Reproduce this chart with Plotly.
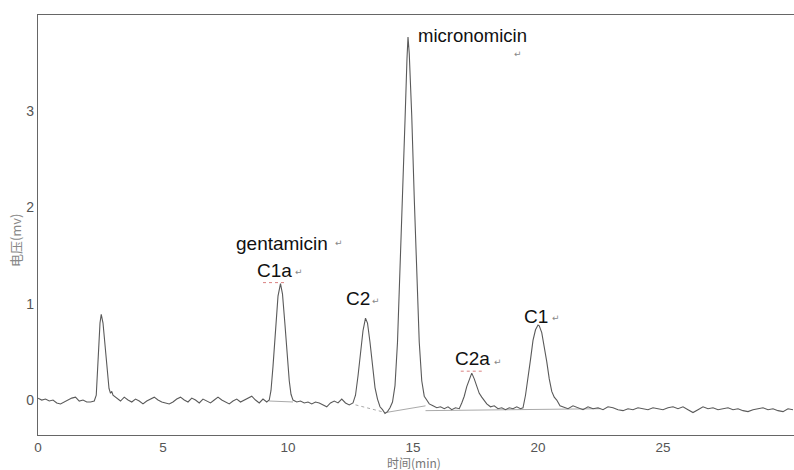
import plotly.graph_objects as go

# ---- data ----
time_min = [
    0.0, 0.15, 0.3, 0.45, 0.6, 0.75, 0.9, 1.05, 1.2, 1.35, 1.5, 1.65, 1.8, 1.95, 2.1, 2.25, 2.33,
    2.38, 2.43, 2.48, 2.53, 2.6, 2.68, 2.76, 2.84, 2.9, 2.95, 3.0,
    3.15, 3.3, 3.45, 3.6, 3.75, 3.9, 4.05, 4.2, 4.35, 4.5, 4.65, 4.8, 4.95, 5.1, 5.25, 5.4,
    5.55, 5.7, 5.85, 6.0, 6.15, 6.3, 6.45, 6.6, 6.75, 6.9, 7.05, 7.2, 7.35, 7.5, 7.65, 7.8,
    7.95, 8.1, 8.25, 8.4, 8.55, 8.7, 8.85, 9.0, 9.15, 9.25,
    9.32, 9.4, 9.5, 9.6, 9.7, 9.78, 9.88, 9.98, 10.05, 10.12, 10.2,
    10.35, 10.5, 10.65, 10.8, 10.95, 11.1, 11.25, 11.4, 11.55, 11.7, 11.85, 12.0, 12.15, 12.3, 12.45, 12.6,
    12.7, 12.8, 12.9, 13.0, 13.1, 13.18, 13.28, 13.38, 13.48, 13.58, 13.68, 13.78, 13.88, 13.98, 14.08, 14.18,
    14.28, 14.38, 14.48, 14.58, 14.68, 14.76, 14.8, 14.85, 14.95, 15.05, 15.15, 15.25, 15.35, 15.45, 15.55, 15.65,
    15.8, 15.95, 16.1, 16.25, 16.4, 16.55, 16.7, 16.85,
    16.95, 17.05, 17.15, 17.25, 17.35, 17.45, 17.55, 17.65, 17.75, 17.85, 17.95, 18.1,
    18.25, 18.4, 18.55, 18.7, 18.85, 19.0, 19.15, 19.3, 19.4,
    19.5, 19.6, 19.7, 19.8, 19.9, 20.0, 20.05, 20.15, 20.25, 20.35, 20.45, 20.55, 20.65, 20.75, 20.88,
    21.0, 21.2, 21.4, 21.6, 21.8, 22.0, 22.2, 22.4, 22.6, 22.8, 23.0, 23.2, 23.4, 23.6, 23.8,
    24.0, 24.2, 24.4, 24.6, 24.8, 25.0, 25.2, 25.4, 25.6, 25.8, 26.0, 26.2, 26.4, 26.6, 26.8,
    27.0, 27.2, 27.4, 27.6, 27.8, 28.0, 28.2, 28.4, 28.6, 28.8, 29.0, 29.2, 29.4, 29.6, 29.8,
    30.0, 30.2,
]
signal_mv = [
    0.02, 0.0, 0.01, -0.01, 0.0, -0.03, -0.04, -0.02, 0.0, 0.02, 0.03, -0.01, 0.0, -0.02, -0.02, -0.01, 0.05,
    0.25, 0.55, 0.8, 0.89, 0.8, 0.55, 0.3, 0.12, 0.07, 0.09, 0.05,
    0.02, -0.01, 0.03, 0.0, -0.02, 0.01, -0.01, -0.04, -0.01, 0.01, 0.03, 0.0, -0.02, -0.03, -0.04, -0.02,
    0.01, 0.03, 0.0, -0.02, 0.02, 0.0, -0.03, 0.01, -0.01, -0.03, 0.0, 0.03, 0.0, -0.02, -0.04, -0.01,
    0.01, -0.02, 0.0, 0.02, 0.04, 0.0, -0.03, 0.01, -0.02, 0.0,
    0.1, 0.35, 0.75, 1.08, 1.21, 1.1, 0.78, 0.42, 0.2, 0.06, 0.0,
    -0.02, -0.01, -0.03, -0.02, -0.04, -0.02, -0.03, -0.05, -0.07, -0.03, -0.01, -0.03, 0.01, -0.03, -0.05, -0.03,
    0.05, 0.25, 0.5, 0.72, 0.85, 0.8, 0.6, 0.35, 0.13, 0.01, -0.07, -0.1, -0.14, -0.12, -0.08, -0.02,
    0.15, 0.6, 1.3, 2.1, 2.9, 3.55, 3.77, 3.6, 2.95, 2.1, 1.3, 0.6, 0.2, 0.04, 0.0, -0.04,
    -0.06, -0.08, -0.07, -0.09, -0.07, -0.1, -0.08, -0.09,
    -0.03, 0.04, 0.14, 0.22, 0.28, 0.22, 0.14, 0.07, 0.03, -0.01, -0.04, -0.07,
    -0.06, -0.09, -0.08, -0.1, -0.08, -0.09, -0.07, -0.09, -0.08,
    0.05, 0.22, 0.42, 0.62, 0.73, 0.78, 0.77, 0.7, 0.56, 0.4, 0.22, 0.09, 0.03, 0.0, -0.06,
    -0.07, -0.09, -0.06, -0.08, -0.1, -0.07, -0.09, -0.08, -0.1, -0.07, -0.08, -0.1, -0.11, -0.09, -0.1,
    -0.08, -0.09, -0.1, -0.08, -0.09, -0.1, -0.08, -0.07, -0.09, -0.07, -0.1, -0.13, -0.1, -0.07, -0.09,
    -0.08, -0.1, -0.09, -0.08, -0.1, -0.09, -0.11, -0.12, -0.1, -0.09, -0.08, -0.1, -0.09, -0.11, -0.12,
    -0.09, -0.1,
]
assert len(time_min) == len(signal_mv)

# integration baselines (start/end time, start/end value)
base_t0 = [9.25, 12.7, 13.9, 15.5]
base_t1 = [10.2, 13.9, 15.5, 22.5]
base_v0 = [-0.01, -0.05, -0.13, -0.11]
base_v1 = [-0.02, -0.13, -0.06, -0.09]
base_dash = ["solid", "dot", "solid", "solid"]

# peak labels (label text, label centre time, label centre value)
label_text = ["micronomicin", "gentamicin", "C1a", "C2", "C2a", "C1"]
label_t = [17.36, 9.76, 9.45, 12.8, 17.36, 19.92]
label_v = [3.79, 1.63, 1.35, 1.05, 0.43, 0.87]
label_size = [18.5, 19, 19, 19, 19, 19]
mark_t = [19.2, 12.05, 10.45, 13.5, 18.4, 20.7]
mark_v = [3.6, 1.63, 1.33, 1.03, 0.4, 0.85]

x_ticks = [0, 5, 10, 15, 20, 25]
y_ticks = [0, 1, 2, 3]

fig = go.Figure()
for i in range(len(base_t0)):
    fig.add_trace(go.Scatter(x=[base_t0[i], base_t1[i]], y=[base_v0[i], base_v1[i]],
                             mode="lines", line=dict(color="#aaaaaa", width=1, dash=base_dash[i]),
                             hoverinfo="skip", showlegend=False))
fig.add_trace(go.Scatter(x=time_min, y=signal_mv, mode="lines",
                         line=dict(color="#5a5a5a", width=1.1), showlegend=False))

for txt, t, v, s in zip(label_text, label_t, label_v, label_size):
    fig.add_annotation(x=t, y=v, text=txt, showarrow=False,
                       font=dict(family="Liberation Sans, Arial", size=s, color="#111111"))
for t, v in zip(mark_t, mark_v):
    fig.add_annotation(x=t, y=v, text="↵", showarrow=False,
                       font=dict(family="DejaVu Sans", size=9, color="#888888"))

# small red dotted marks under C1a and C2a
for idx in (2, 4):
    fig.add_shape(type="line", x0=label_t[idx] - 0.45, x1=label_t[idx] + 0.45,
                  y0=label_v[idx] - 0.13, y1=label_v[idx] - 0.13,
                  line=dict(color="#d98080", width=1, dash="dot"))

fig.add_annotation(xref="paper", yref="paper", x=0.497, y=0, yshift=-27.5, text="时间(min)",
                   showarrow=False, yanchor="middle", xanchor="center",
                   font=dict(family="Noto Sans CJK SC", size=12, color="#777777"))
fig.add_annotation(xref="paper", yref="paper", x=0, xshift=-23, y=0.464, text="电压(mv)",
                   showarrow=False, textangle=-90, xanchor="center", yanchor="middle",
                   font=dict(family="Noto Sans CJK SC", size=13, color="#888888"))

fig.update_layout(
    width=794, height=470,
    margin=dict(l=38, r=0, t=15, b=35),
    paper_bgcolor="white", plot_bgcolor="white",
    xaxis=dict(range=[0, 30.24], tickvals=x_ticks, showgrid=False, zeroline=False,
               showline=True, linecolor="#666666", linewidth=1.3, mirror=True, ticks="",
               tickfont=dict(family="Liberation Sans, Arial", size=13.5, color="#555555")),
    yaxis=dict(range=[-0.363, 4.0], tickvals=y_ticks, showgrid=False, zeroline=False,
               showline=True, linecolor="#666666", linewidth=1.3, ticks="",
               tickfont=dict(family="Liberation Sans, Arial", size=14, color="#555555")),
)
fig.write_html("out.html")
